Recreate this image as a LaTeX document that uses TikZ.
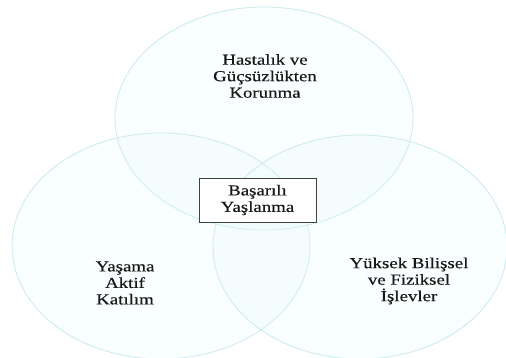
\documentclass[tikz,border=0pt]{standalone}
\usepackage{fontspec}
\setmainfont{Liberation Serif}[FakeStretch=1.24,FakeBold=0.35]
\definecolor{ringedge}{RGB}{206,236,238}
\definecolor{ringfill}{RGB}{226,248,250}
\newcommand{\lbl}{\fontsize{15.2}{16.5}\selectfont}

\begin{document}
\begin{tikzpicture}[x=1pt,y=-1pt,
   ring/.style={fill=ringfill,fill opacity=0.2,draw=ringedge,line width=0.9pt},
   words/.style={align=center,font=\lbl,text=black!90}]
   \useasboundingbox (0,0) rectangle (506,358);
   \filldraw[ring] (264,118.5) ellipse [x radius=149,y radius=111.5];
   \filldraw[ring] (161,246) ellipse [x radius=149,y radius=113];
   \filldraw[ring] (360,247) ellipse [x radius=147,y radius=112];
   \node[words] (prot) at (265,76) {Hastalık ve\\Güçsüzlükten\\Korunma};
   \node[words] (life) at (125,283) {Yaşama\\Aktif\\Katılım};
   \node[words] (func) at (409,281) {Yüksek Bilişsel\\ve Fiziksel\\İşlevler};
   \node[words,draw=black!75,line width=0.8pt,fill=white,
         minimum width=117pt,minimum height=44pt] (core) at (257.5,200) {Başarılı\\Yaşlanma};
\end{tikzpicture}
\end{document}
